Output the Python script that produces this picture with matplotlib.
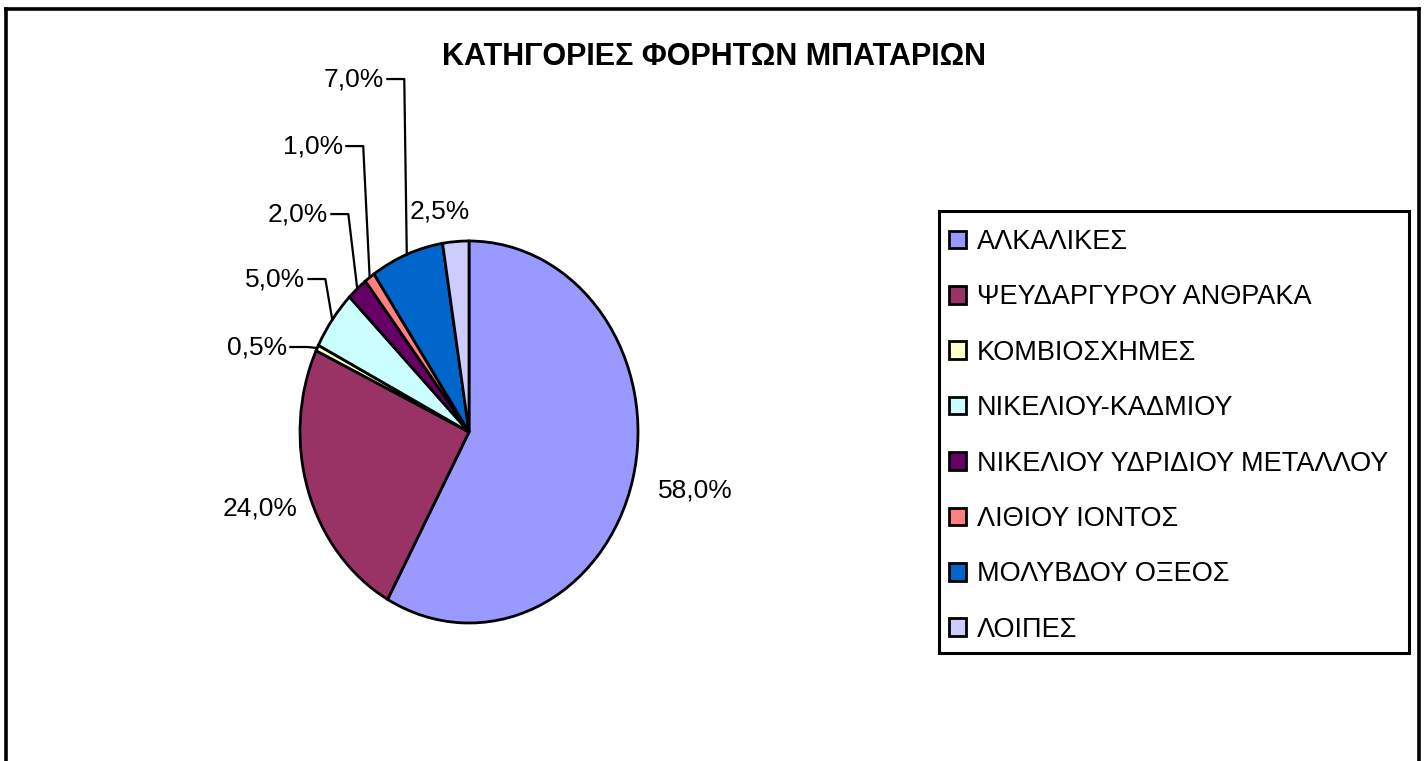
import numpy as np
import matplotlib.pyplot as plt
from matplotlib.lines import Line2D
from matplotlib.patches import Rectangle

plt.rcParams['font.family'] = ['Liberation Sans', 'DejaVu Sans']

# data
categories = ['ΑΛΚΑΛΙΚΕΣ', 'ΨΕΥΔΑΡΓΥΡΟΥ ΑΝΘΡΑΚΑ', 'ΚΟΜΒΙΟΣΧΗΜΕΣ', 'ΝΙΚΕΛΙΟΥ-ΚΑΔΜΙΟΥ',
              'ΝΙΚΕΛΙΟΥ ΥΔΡΙΔΙΟΥ ΜΕΤΑΛΛΟΥ', 'ΛΙΘΙΟΥ ΙΟΝΤΟΣ', 'ΜΟΛΥΒΔΟΥ ΟΞΕΟΣ', 'ΛΟΙΠΕΣ']
shares = [58.0, 24.0, 0.5, 5.0, 2.0, 1.0, 7.0, 2.5]
colors = ['#9999FF', '#993366', '#FFFFCC', '#CCFFFF', '#660066', '#FF8080', '#0066CC', '#CCCCFF']
title = 'ΚΑΤΗΓΟΡΙΕΣ ΦΟΡΗΤΩΝ ΜΠΑΤΑΡΙΩΝ'

# label placement (pie units), and whether a leader line is drawn
label_xy = [(1.337, -0.304), (-1.237, -0.398), (-1.077, 0.445), (-0.970, 0.801),
            (-0.834, 1.141), (-0.746, 1.497), (-0.503, 1.848), (-0.172, 1.152)]
leader = [False, False, True, True, True, True, True, False]

W, H = 1426, 761
fig = plt.figure(figsize=(W / 100, H / 100), dpi=100)

# pie is drawn slightly stretched (as in the original sheet)
cx, cy, rx, ry = 469, 432, 169, 191
k = 2.2
ax = fig.add_axes([(cx - k * rx) / W, (H - cy - k * ry) / H, 2 * k * rx / W, 2 * k * ry / H])
wedges, _ = ax.pie(shares, colors=colors, startangle=90, counterclock=False,
                   wedgeprops=dict(edgecolor='black', linewidth=2.0))
ax.set_aspect('auto')
ax.set_xlim(-k, k)
ax.set_ylim(-k, k)

for w, val, (lx, ly), lead in zip(wedges, shares, label_xy, leader):
    txt = f'{val:.1f}%'.replace('.', ',')
    if lead:
        ang = np.deg2rad((w.theta1 + w.theta2) / 2)
        px, py = np.cos(ang), np.sin(ang)
        x0 = lx + 0.02
        x1 = x0 + 0.10
        ax.plot([x0, x1, px], [ly, ly, py], color='black', lw=1.6, clip_on=False)
        ax.text(lx, ly, txt, ha='right', va='center', fontsize=19)
    else:
        ax.text(lx, ly, txt, ha='center', va='center', fontsize=19)

fig.text(714 / W, 1 - 57 / H, title, ha='center', va='center', fontsize=22, fontweight='bold')

leg = fig.legend(wedges, categories, loc='upper left', bbox_to_anchor=(949 / W, 1 - 229 / H),
                 fontsize=19.5, frameon=False, borderaxespad=0, borderpad=0,
                 handlelength=0.63, handleheight=0.63, handletextpad=0.4, labelspacing=1.085)
# legend box
fig.add_artist(Rectangle((939 / W, 1 - 653 / H), (1409 - 939) / W, (653 - 211) / H,
                         transform=fig.transFigure, fill=False, edgecolor='black', lw=2.2))

# outer chart border (bottom edge falls outside the picture)
for xs, ys in [([6, 6], [H + 5, 9]), ([6, 1419], [9, 9]), ([1419, 1419], [9, H + 5])]:
    fig.add_artist(Line2D([x / W for x in xs], [1 - y / H for y in ys],
                          transform=fig.transFigure, color='black', lw=2.6))

fig.savefig('out.png', dpi=100, facecolor='white')
